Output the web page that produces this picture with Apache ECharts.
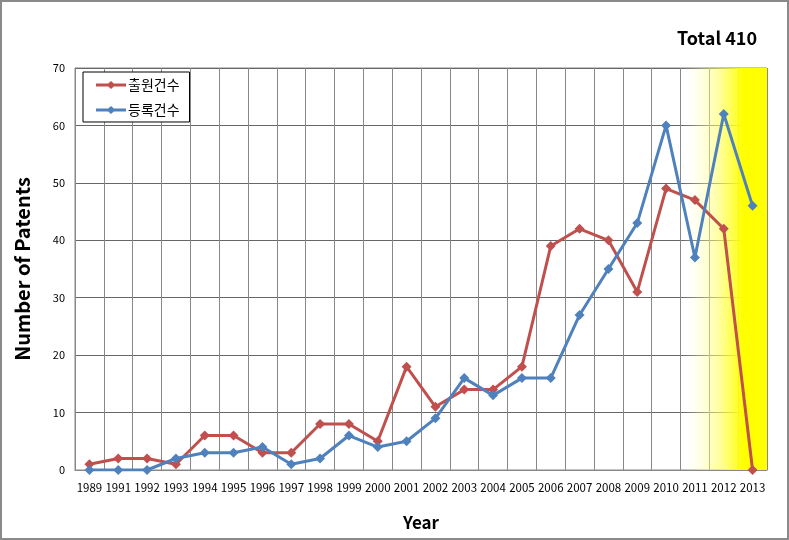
<!DOCTYPE html>
<html><head><meta charset="utf-8">
<script src="https://cdn.jsdelivr.net/npm/echarts@6/dist/echarts.min.js"></script>
<style>html,body{margin:0;padding:0;background:#fff}#c{width:789px;height:540px;box-sizing:border-box;border:2px solid #8a8a8a}</style>
</head><body><div id="c"></div>
<script>
const years = ['1989','1991','1992','1993','1994','1995','1996','1997','1998','1999','2000','2001','2002','2003','2004','2005','2006','2007','2008','2009','2010','2011','2012','2013'];
const applied = [1,2,2,1,6,6,3,3,8,8,5,18,11,14,14,18,39,42,40,31,49,47,42,0];
const registered = [0,0,0,2,3,3,4,1,2,6,4,5,9,16,13,16,16,27,35,43,60,37,62,46];
const yTicks = {min:0, max:70, interval:10};
const highlightStart = 21, highlightEnd = 24;

const chart = echarts.init(document.getElementById('c'), null, {renderer:'canvas'});
const font = "'Noto Sans CJK KR', 'Noto Sans', sans-serif";
const legendIcon = 'path://M0,3.6L30,3.6L30,6.4L0,6.4Z M15,1L19.5,5L15,9L10.5,5Z';
chart.setOption({
  animation:false,
  textStyle:{fontFamily:font},
  title:{text:'Total 410', right:25, top:22, textStyle:{fontFamily:font, fontWeight:'bold', fontSize:18, color:'#000'}},
  legend:{orient:'vertical', left:81, top:70, itemGap:11, padding:[6,10,5,13], borderColor:'#000', borderWidth:1, backgroundColor:'#fff',
    itemWidth:30, itemHeight:10, textStyle:{fontSize:14, color:'#000', fontFamily:font, padding:[0,0,0,-3]},
    data:[{name:'출원건수', icon:legendIcon},{name:'등록건수', icon:legendIcon}]},
  grid:{left:73, right:20, top:66, bottom:68, show:true, borderColor:'#888', borderWidth:1},
  xAxis:[{type:'category', data:years, boundaryGap:true,
    name:'Year', nameLocation:'middle', nameGap:44, nameTextStyle:{fontSize:17, fontWeight:'bold', color:'#000', fontFamily:font},
    axisLine:{lineStyle:{color:'#888'}}, axisTick:{show:false},
    axisLabel:{interval:0, fontSize:11.5, color:'#000', margin:12, fontFamily:font},
    splitLine:{show:true, lineStyle:{color:'#888', width:1}}},
    {type:'value', min:0, max:years.length, show:false}],
  yAxis:{type:'value', min:yTicks.min, max:yTicks.max, interval:yTicks.interval,
    name:'Number of Patents', nameLocation:'middle', nameGap:43, nameRotate:90,
    nameTextStyle:{fontSize:20, fontWeight:'bold', color:'#000', fontFamily:font},
    axisLine:{show:true, lineStyle:{color:'#888'}}, axisTick:{show:false},
    axisLabel:{fontSize:11, color:'#000', margin:10},
    splitLine:{lineStyle:{color:'#666', width:1}}},
  series:[
    {type:'line', xAxisIndex:1, data:[], silent:true,
      markArea:{silent:true, itemStyle:{color:{type:'linear', x:0,y:0,x2:1,y2:0, colorStops:[{offset:0,color:'rgba(255,255,255,0)'},{offset:0.72,color:'#FFFF00'},{offset:1,color:'#FFFF00'}]}},
        data:[[{xAxis:highlightStart, yAxis:yTicks.min},{xAxis:highlightEnd, yAxis:yTicks.max}]]}},
    {name:'출원건수', type:'line', data:applied, symbol:'diamond', symbolSize:10,
      lineStyle:{color:'#C0504D', width:3}, itemStyle:{color:'#C0504D'}, z:3},
    {name:'등록건수', type:'line', data:registered, symbol:'diamond', symbolSize:10,
      lineStyle:{color:'#4F81BD', width:3}, itemStyle:{color:'#4F81BD'}, z:4}
  ]
});
</script></body></html>
